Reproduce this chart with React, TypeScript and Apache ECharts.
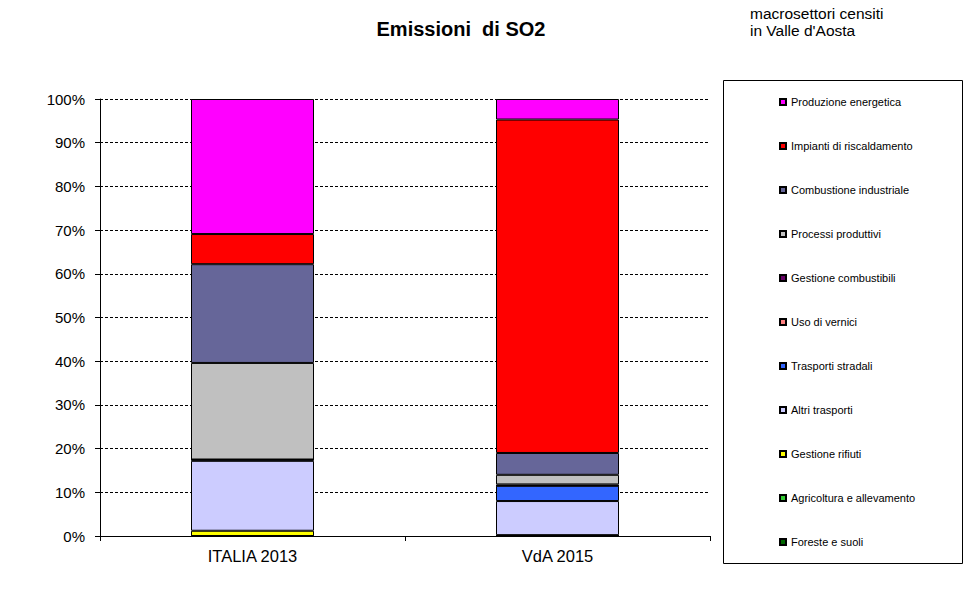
import React, { useEffect, useRef } from "react";
import * as echarts from "echarts";

const categories = ["ITALIA 2013", "VdA 2015"];
const seriesNames = [
  "Produzione energetica",
  "Impianti di riscaldamento",
  "Combustione industriale",
  "Processi produttivi",
  "Gestione combustibili",
  "Uso di vernici",
  "Trasporti stradali",
  "Altri trasporti",
  "Gestione rifiuti",
  "Agricoltura e allevamento",
  "Foreste e suoli",
];
const seriesColors = [
  "#FF00FF",
  "#FF0000",
  "#666699",
  "#C0C0C0",
  "#660066",
  "#FF8080",
  "#3366FF",
  "#CCCCFF",
  "#FFFF00",
  "#33CC33",
  "#006600",
];
// percent values [ITALIA 2013, VdA 2015]
const produzioneEnergetica = [30.9, 4.7];
const impiantiRiscaldamento = [6.9, 76.3];
const combustioneIndustriale = [22.6, 5.0];
const processiProduttivi = [22.1, 2.2];
const gestioneCombustibili = [0, 0.3];
const usoVernici = [0, 0];
const trasportiStradali = [0.3, 3.5];
const altriTrasporti = [16.0, 7.8];
const gestioneRifiuti = [1.2, 0.2];
const agricoltura = [0, 0];
const foresteSuoli = [0, 0];
const yTicks = [0, 10, 20, 30, 40, 50, 60, 70, 80, 90, 100];

const seriesValues = [
  produzioneEnergetica,
  impiantiRiscaldamento,
  combustioneIndustriale,
  processiProduttivi,
  gestioneCombustibili,
  usoVernici,
  trasportiStradali,
  altriTrasporti,
  gestioneRifiuti,
  agricoltura,
  foresteSuoli,
];

export default function App() {
  const ref = useRef<HTMLDivElement>(null);
  useEffect(() => {
    document.body.style.margin = "0";
    if (!ref.current) return;
    const chart = echarts.init(ref.current, null, { renderer: "svg" });
    const font = "'Liberation Sans', Arial, sans-serif";
    // stacking order: bottom first
    const order = seriesNames.map((_, i) => i).reverse();
    const series = order.map((i) => ({
      name: seriesNames[i],
      type: "bar",
      stack: "total",
      barWidth: 123,
      data: seriesValues[i],
      itemStyle: { color: seriesColors[i], borderColor: "#000", borderWidth: 1 },
    }));
    chart.setOption({
      animation: false,
      backgroundColor: "#fff",
      textStyle: { fontFamily: font },
      title: {
        text: "Emissioni  di SO2",
        left: 456,
        top: 14,
        textAlign: "center",
        textStyle: { fontSize: 20, fontWeight: "bold", color: "#000", fontFamily: font },
      },
      graphic: [
        {
          type: "text",
          left: 750,
          top: 5,
          style: {
            text: "macrosettori censiti\nin Valle d'Aosta",
            fontSize: 15.5,
            lineHeight: 17,
            fill: "#000",
            fontFamily: font,
          },
        },
        {
          type: "rect",
          shape: { x: 723.5, y: 80.5, width: 239, height: 483 },
          style: { fill: "none", stroke: "#000", lineWidth: 1 },
          z: 10,
        },
      ],
      legend: {
        orient: "vertical",
        left: 779,
        top: 95,
        padding: 0,
        itemWidth: 6,
        itemHeight: 6,
        itemGap: 30,
        icon: "rect",
        selectedMode: false,
        data: seriesNames,
        textStyle: { fontSize: 11, lineHeight: 14, color: "#000", fontFamily: font },
      },
      grid: { left: 100, top: 99, right: 257, bottom: 54, containLabel: false },
      xAxis: {
        type: "category",
        data: categories,
        axisLine: { lineStyle: { color: "#000", width: 1 } },
        axisTick: { show: true, alignWithLabel: false, length: 5, lineStyle: { color: "#000" } },
        axisLabel: { fontSize: 16.5, color: "#000", margin: 11, fontFamily: font },
      },
      yAxis: {
        type: "value",
        min: 0,
        max: 100,
        interval: 10,
        axisLine: { show: true, lineStyle: { color: "#000", width: 1 } },
        axisTick: { show: true, length: 5, lineStyle: { color: "#000" } },
        axisLabel: {
          fontSize: 15,
          color: "#000",
          margin: 15,
          fontFamily: font,
          formatter: (v: number) => (yTicks.includes(v) ? v + "%" : ""),
        },
        splitLine: { show: true, lineStyle: { color: "#000", type: [3, 2], width: 1 } },
      },
      series,
    });
    return () => chart.dispose();
  }, []);
  return <div ref={ref} style={{ width: 967, height: 590 }} />;
}
